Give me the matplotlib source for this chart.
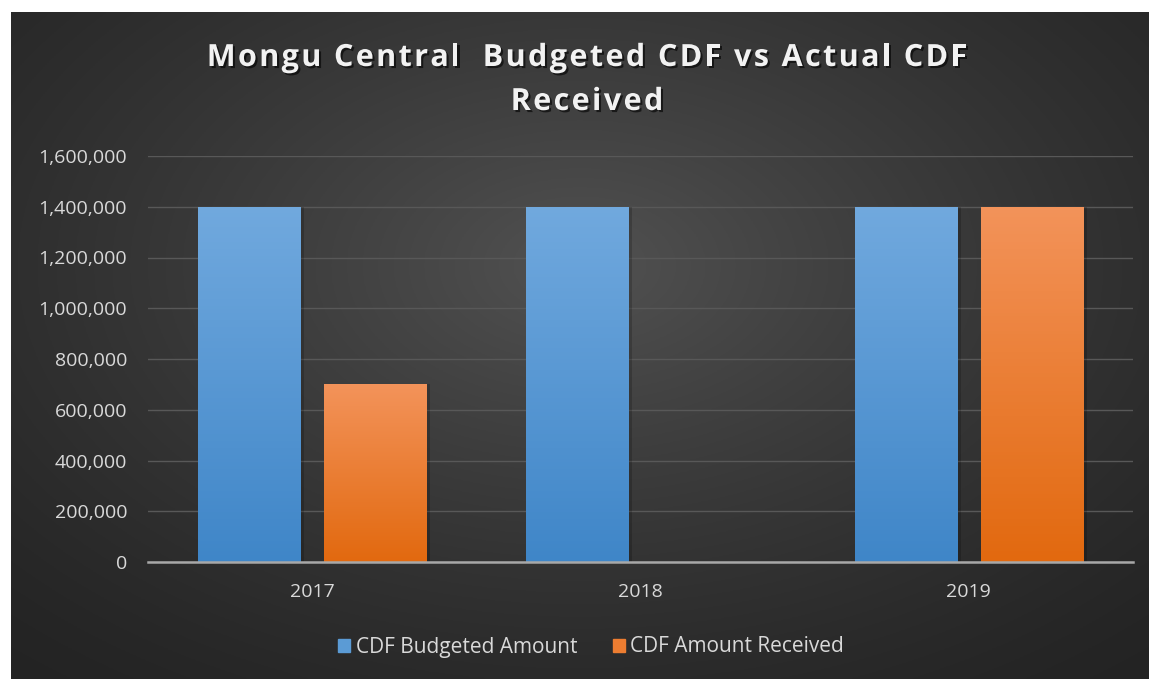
import matplotlib.pyplot as plt
import matplotlib.patheffects as pe
from matplotlib.patches import Rectangle
from matplotlib.ticker import FuncFormatter
from matplotlib.font_manager import FontProperties
from matplotlib.colors import to_rgb
import numpy as np

years = ['2017', '2018', '2019']
budgeted = [1400000, 1400000, 1400000]
received = [700000, 0, 1400000]

series_names = ['CDF Budgeted Amount', 'CDF Amount Received']
series_colors = ['#5b9bd5', '#ed7d31']
top_colors = ['#71a9de', '#f3935a']
bottom_colors = ['#3f86c8', '#e2690f']
title_lines = ['Mongu Central  Budgeted CDF vs Actual CDF', 'Received']

plt.rcParams['font.family'] = ['Open Sans', 'DejaVu Sans']

W, H = 1149, 679
fig = plt.figure(figsize=(W / 100, H / 100), dpi=100, facecolor='white')

# dark panel with a soft radial glow
bg = fig.add_axes([11 / W, 0, 1 - 11 / W, 1 - 12 / H])
bg.set_axis_off()
yy, xx = np.mgrid[0:1:300j, 0:1:500j]
r = np.sqrt(((xx - 0.5) / 0.75) ** 2 + ((yy - 0.38) / 0.8) ** 2)
shade = np.clip(1 - r, 0, 1) ** 1.3
c_out = np.array([0.14, 0.14, 0.14])
c_in = np.array([0.32, 0.32, 0.32])
img = c_out + (c_in - c_out) * shade[..., None]
bg.imshow(img, extent=[0, 1, 0, 1], origin='upper', aspect='auto')
bg.set_xlim(0, 1)
bg.set_ylim(0, 1)

ax = fig.add_axes([148 / W, 117 / H, (1133 - 148) / W, (562 - 156) / H])
ax.patch.set_alpha(0)

x = np.arange(len(years))
width = 0.311
offset = 0.192


def gradient_bars(xpos, values, top, bottom):
    bars = ax.bar(xpos, values, width, color='none', edgecolor='none', zorder=3)
    ramp = np.linspace(0, 1, 100)[:, None]
    t = np.array(to_rgb(top))
    b = np.array(to_rgb(bottom))
    for bar in bars:
        h = bar.get_height()
        if h <= 0:
            continue
        x0 = bar.get_x()
        # faint drop shadow on the right side
        ax.add_patch(Rectangle((x0 + 0.012, 0), width, h, color='black',
                               alpha=0.18, lw=0, zorder=2))
        col = t + (b - t) * ramp
        im = ax.imshow(col[:, None, :].repeat(2, axis=1),
                       extent=[x0, x0 + width, 0, h], origin='upper',
                       aspect='auto', zorder=3)
        im.set_clip_path(bar)
    return bars


gradient_bars(x - offset, budgeted, top_colors[0], bottom_colors[0])
gradient_bars(x + offset, received, top_colors[1], bottom_colors[1])

ax.set_xlim(-0.5, 2.5)
ax.set_ylim(0, 1600000)
ax.set_yticks(np.arange(0, 1600001, 200000))
ax.yaxis.set_major_formatter(FuncFormatter(lambda v, p: f'{int(v):,}'))
ax.set_xticks(x)
ax.set_xticklabels(years)
ax.grid(axis='y', color='#585858', lw=1, zorder=1)
ax.set_axisbelow(True)
for s in ['top', 'right', 'left']:
    ax.spines[s].set_visible(False)
ax.spines['bottom'].set_color('#a8a8a8')
ax.spines['bottom'].set_linewidth(1.8)
ax.spines['bottom'].set_zorder(4)
ax.tick_params(axis='both', length=0, colors='#d9d9d9', labelsize=14)
ax.tick_params(axis='y', pad=15)
ax.tick_params(axis='x', pad=15)

# title drawn letter by letter so the tracking can be widened
renderer = fig.canvas.get_renderer()
tprop = FontProperties(family=['Open Sans', 'DejaVu Sans'], weight='bold', size=22)
spacing = 2.4
shadow = [pe.withSimplePatchShadow(offset=(1.5, -1.5), shadow_rgbFace='black', alpha=0.6)]
bar_w = renderer.get_text_width_height_descent('|', tprop, ismath=False)[0]
for line, yc in zip(title_lines, [58, 102]):
    full_w = renderer.get_text_width_height_descent(line, tprop, ismath=False)[0]
    total = full_w + spacing * (len(line) - 1)
    left = 587 - total / 2
    for i, ch in enumerate(line):
        if ch == ' ':
            continue
        pre = 0
        if i:
            pre = renderer.get_text_width_height_descent(line[:i] + '|', tprop, ismath=False)[0] - bar_w
        fig.text((left + pre + spacing * i) / W, 1 - yc / H, ch, ha='left', va='center',
                 fontproperties=tprop, color='#f2f2f2', path_effects=shadow)

# legend below the plot
handles = [Rectangle((0, 0), 1, 1, color=c) for c in series_colors]
fig.legend(handles, series_names, loc='center', bbox_to_anchor=(591 / W, 1 - 647 / H),
           ncol=2, frameon=False, fontsize=15, labelcolor='#d9d9d9',
           handlelength=0.6, handleheight=0.6, handletextpad=0.25, columnspacing=1.7)

fig.savefig('out.png', dpi=100, facecolor='white')
